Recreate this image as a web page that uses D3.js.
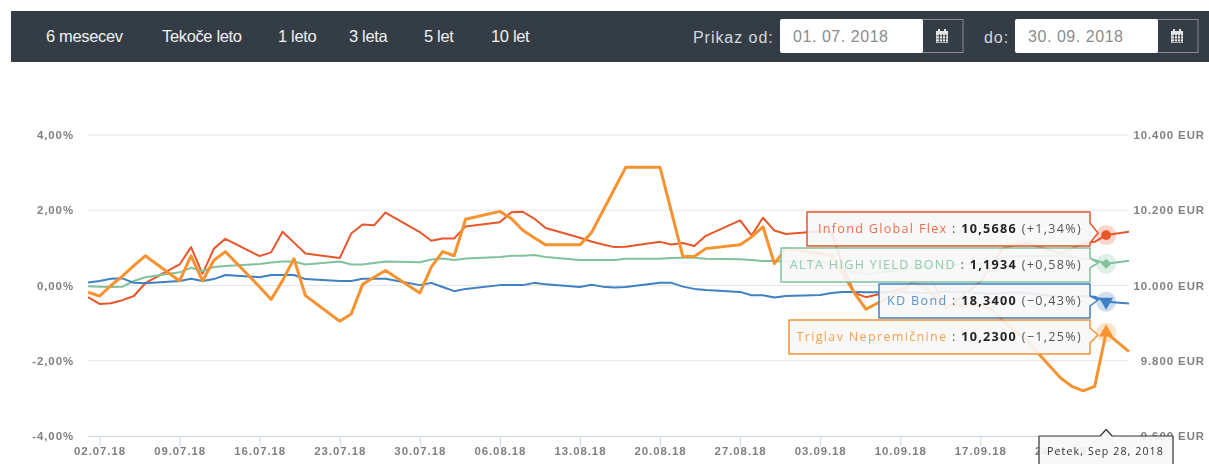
<!DOCTYPE html>
<html><head><meta charset="utf-8">
<script src="https://cdn.jsdelivr.net/npm/d3@7"></script>
<style>
html,body{margin:0;padding:0;background:#fff;overflow:hidden}
svg{display:block;filter:blur(0.35px)}
text{font-family:"Liberation Sans",Arial,sans-serif}
</style></head><body><svg id="c" width="1209" height="464"></svg>
<script>
const navLabels = ["6 mesecev","Tekoče leto","1 leto","3 leta","5 let","10 let"];
const dates = ["07-01","07-02","07-03","07-04","07-05","07-06","07-09","07-10","07-11","07-12","07-13","07-16","07-17","07-18","07-19","07-20","07-23","07-24","07-25","07-26","07-27","07-30","07-31","08-01","08-02","08-03","08-06","08-07","08-08","08-09","08-10","08-13","08-14","08-15","08-16","08-17","08-20","08-21","08-22","08-23","08-24","08-27","08-28","08-29","08-30","08-31","09-03","09-04","09-05","09-06","09-07","09-10","09-11","09-12","09-13","09-14","09-17","09-18","09-19","09-20","09-21","09-24","09-25","09-26","09-27","09-28","09-30"];
const infond = [-0.31,-0.49,-0.47,-0.39,-0.28,0.06,0.56,1.02,0.31,0.98,1.24,0.78,0.88,1.43,1.14,0.85,0.73,1.38,1.62,1.60,1.94,1.42,1.19,1.25,1.25,1.57,1.68,1.95,1.96,1.78,1.53,1.27,1.17,1.09,1.02,1.03,1.16,1.09,1.13,1.05,1.32,1.73,1.33,1.80,1.46,1.37,1.44,1.42,0.50,-0.20,-0.31,-0.10,0.05,0.00,0.02,-0.62,0.10,0.55,1.00,1.07,1.13,0.86,0.98,1.12,1.16,1.34,1.43];
const alta = [-0.02,-0.03,-0.04,-0.03,0.12,0.22,0.35,0.47,0.38,0.49,0.52,0.57,0.61,0.64,0.64,0.56,0.64,0.56,0.56,0.60,0.64,0.62,0.69,0.72,0.68,0.72,0.76,0.79,0.79,0.81,0.76,0.68,0.68,0.68,0.68,0.71,0.71,0.73,0.74,0.74,0.71,0.70,0.68,0.65,0.65,0.64,0.62,0.58,0.45,0.35,0.30,0.42,0.47,0.50,0.52,0.55,0.58,0.63,0.75,0.78,0.78,0.80,0.78,0.72,0.68,0.58,0.66];
const kd = [0.08,0.12,0.18,0.19,0.07,0.06,0.12,0.18,0.12,0.17,0.28,0.22,0.28,0.28,0.28,0.17,0.12,0.12,0.18,0.18,0.18,0.01,0.07,-0.04,-0.15,-0.09,0.01,0.01,0.01,0.07,0.03,-0.04,0.02,-0.03,-0.05,-0.04,0.07,0.07,-0.03,-0.09,-0.12,-0.17,-0.26,-0.26,-0.32,-0.28,-0.25,-0.20,-0.17,-0.17,-0.18,-0.18,-0.18,-0.20,-0.20,-0.16,-0.20,-0.22,-0.20,-0.18,-0.20,-0.30,-0.30,-0.28,-0.30,-0.43,-0.48];
const triglav = [-0.18,-0.28,0.0,0.25,0.53,0.79,0.12,0.79,0.12,0.67,0.9,-0.04,-0.37,0.13,0.71,-0.27,-0.95,-0.76,0.03,0.22,0.4,-0.2,0.49,0.9,0.79,1.76,1.97,1.78,1.47,1.27,1.08,1.08,1.4,1.98,2.56,3.14,3.14,1.96,0.77,0.77,0.98,1.08,1.29,1.56,0.58,0.98,0.85,0.8,0.3,-0.2,-0.63,-0.15,0.05,0.0,-0.3,-0.55,-0.5,-0.65,-0.95,-1.2,-1.45,-2.45,-2.68,-2.8,-2.68,-1.25,-1.76];
const xTickDates = ["07-02","07-09","07-16","07-23","07-30","08-06","08-13","08-20","08-27","09-03","09-10","09-17","09-24"];
const xTickLabels = ["02.07.18","09.07.18","16.07.18","23.07.18","30.07.18","06.08.18","13.08.18","20.08.18","27.08.18","03.09.18","10.09.18","17.09.18","24.09.18"];
const pctTicks = [4,2,0,-2,-4];
const pctLabels = ["4,00%","2,00%","0,00%","-2,00%","-4,00%"];
const eurTicks = [10400,10200,10000,9800,9600];
const eurLabels = ["10.400 EUR","10.200 EUR","10.000 EUR","9.800 EUR","9.600 EUR"];
const seriesNames = ["Infond Global Flex","ALTA HIGH YIELD BOND","KD Bond","Triglav Nepremičnine"];
const seriesPrices = ["10,5686","1,1934","18,3400","10,2300"];
const seriesChanges = ["(+1,34%)","(+0,58%)","(−0,43%)","(−1,25%)"];
const seriesColors = ["#e8562a","#80c29c","#3f80c3","#f7932f"];
const seriesWidths = [2,2,2,3];
const seriesValues = [infond,alta,kd,triglav];
const hoverDate = "09-28";
const hoverLabel = "Petek, Sep 28, 2018";

const parse = s => new Date(Date.UTC(2018, +s.slice(0,2)-1, +s.slice(3)));
const svg = d3.select("#c");
const x = d3.scaleUtc().domain([parse("07-01"), parse("09-30")]).range([88.1,1129]);
const y = d3.scaleLinear().domain([-4,4]).range([436,135]);
const yEur = d3.scaleLinear().domain([9600,10400]).range([436,135]);

// header
const F = "#343d46";
svg.append("rect").attr("x",11).attr("y",11).attr("width",1198).attr("height",51).attr("fill",F);
const navX = [46,162,278,349,424,491];
svg.selectAll(".nav").data(navLabels).join("text").attr("class","nav")
  .attr("x",(d,i)=>navX[i]).attr("y",41.5).attr("font-size",16.5).attr("letter-spacing",-0.35).attr("fill","#eef0f1").text(d=>d);
const lab = (t,xp)=>svg.append("text").attr("x",xp).attr("y",43).attr("font-size",16).attr("letter-spacing",0.95).attr("fill","#d6d8dc").text(t);
lab("Prikaz od:",693); lab("do:",984);
[[780,"01. 07. 2018"],[1015,"30. 09. 2018"]].forEach(([bx,t])=>{
  svg.append("rect").attr("x",bx+141).attr("y",19.5).attr("width",42).attr("height",33).attr("fill",F).attr("stroke","#858c92").attr("stroke-width",1);
  svg.append("rect").attr("x",bx).attr("y",19).attr("width",143).attr("height",34).attr("rx",2).attr("fill","#fff");
  svg.append("text").attr("x",bx+13).attr("y",42).attr("font-size",16).attr("letter-spacing",0.55).attr("fill","#8b8b8b").text(t);
  const ix=bx+156;
  svg.append("rect").attr("x",ix).attr("y",31).attr("width",12).attr("height",12).attr("fill","#e6e6e6");
  svg.append("rect").attr("x",ix+2).attr("y",29).attr("width",2).attr("height",3).attr("fill","#e6e6e6");
  svg.append("rect").attr("x",ix+8).attr("y",29).attr("width",2).attr("height",3).attr("fill","#e6e6e6");
  [3,6,9].forEach(o=>{
    svg.append("rect").attr("x",ix+o).attr("y",34).attr("width",0.8).attr("height",8).attr("fill",F);
    svg.append("rect").attr("x",ix+0.5).attr("y",31+o+1.5).attr("width",11).attr("height",0.8).attr("fill",F);
  });
});

// grid
svg.append("g").selectAll("line").data(pctTicks.slice(0,4)).join("line")
  .attr("x1",88).attr("x2",1128).attr("y1",d=>y(d)).attr("y2",d=>y(d))
  .attr("stroke","#e6e6e6").attr("stroke-width",1);

// axes
const axisFont = g => g.attr("font-size",11.4).attr("font-weight",700).attr("letter-spacing",0.95).attr("fill","#808080").attr("font-family","Liberation Sans");
const xAxis = d3.axisBottom(x).tickValues(xTickDates.map(parse)).tickSize(10)
  .tickFormat((d,i)=>xTickLabels[i]);
const gx = svg.append("g").attr("transform","translate(0,436)").call(xAxis);
gx.select(".domain").attr("d","M88,0.5H1128").attr("stroke","#ccd6eb");
gx.selectAll(".tick line").attr("stroke","#ccd6eb");
gx.selectAll(".tick text").attr("y",11).attr("dy","0.71em").call(axisFont);

const gl = svg.append("g").attr("transform","translate(74,0)")
  .call(d3.axisLeft(y).tickValues(pctTicks).tickSize(0).tickPadding(0).tickFormat((d,i)=>pctLabels[i]));
gl.select(".domain").remove();
gl.selectAll("text").call(axisFont);

const gr = svg.append("g").attr("transform","translate(1205,0)")
  .call(d3.axisLeft(yEur).tickValues(eurTicks).tickSize(0).tickPadding(0).tickFormat((d,i)=>eurLabels[i]));
gr.select(".domain").remove();
gr.selectAll("text").call(axisFont);

// lines
const line = d3.line().x(d=>x(parse(d.d))).y(d=>y(d.v)).curve(d3.curveLinear);
seriesValues.forEach((vals,i)=>{
  svg.append("path").datum(vals.map((v,j)=>({d:dates[j],v})))
    .attr("fill","none").attr("stroke",seriesColors[i]).attr("stroke-width",seriesWidths[i])
    .attr("stroke-linejoin","round").attr("d",line);
});

// hover markers
const hi = dates.indexOf(hoverDate);
const symbols = [d3.symbolCircle,d3.symbolSquare,d3.symbolTriangle,d3.symbolTriangle];
const symRot = [0,45,180,0];
seriesValues.forEach((vals,i)=>{
  const mx=x(parse(hoverDate)), my=y(vals[hi]);
  svg.append("circle").attr("cx",mx).attr("cy",my).attr("r",10).attr("fill",seriesColors[i]).attr("opacity",0.25);
  svg.append("path").attr("d",d3.symbol().type(symbols[i]).size(i===0?75:i===1?50:85)())
    .attr("transform",`translate(${mx},${my}) rotate(${symRot[i]})`).attr("fill",seriesColors[i]);
});

// tooltips
const boxes = [
 {l:807,t:212,b:246,a0:223,a:233,a1:243},
 {l:781,t:248,b:282,a0:258,a:263,a1:268},
 {l:879,t:284,b:318,a0:296,a:300,a1:306},
 {l:789,t:320,b:354,a0:328,a:335,a1:343}
];
const R=1090;
boxes.forEach((b,i)=>{
  svg.append("path").attr("d",`M${b.l},${b.t}H${R}V${b.a0}L${R+8},${b.a}L${R},${b.a1}V${b.b}H${b.l}Z`)
    .attr("fill","#f7f7f7").attr("fill-opacity",0.91).attr("stroke",seriesColors[i]).attr("stroke-width",1.5).attr("stroke-linejoin","round");
  const t = svg.append("text").attr("x",R-8).attr("y",(b.t+b.b)/2+3.5).attr("text-anchor","end")
    .attr("font-size",12.6).attr("letter-spacing",1.3).style("font-family","'Open Sans',sans-serif");
  t.append("tspan").attr("fill",seriesColors[i]).attr("fill-opacity",0.85).text(seriesNames[i]);
  t.append("tspan").attr("fill","#555").text(" : ");
  t.append("tspan").attr("fill","#222").attr("font-weight",700).text(seriesPrices[i]);
  t.append("tspan").attr("fill","#555").text(" "+seriesChanges[i]);
});

// date tooltip
const tx = x(parse(hoverDate));
svg.append("path").attr("d",`M1039,436H${tx-6}L${tx},429.5L${tx+6},436H1173V470H1039Z`)
  .attr("fill","#f7f7f7").attr("fill-opacity",0.9).attr("stroke","#333").attr("stroke-width",1.2).attr("stroke-linejoin","round");
svg.append("text").attr("x",1105.5).attr("y",455).attr("text-anchor","middle")
  .attr("font-size",10.6).attr("letter-spacing",1.1).attr("fill","#333").style("font-family","'Open Sans',sans-serif").text(hoverLabel);
</script></body></html>
